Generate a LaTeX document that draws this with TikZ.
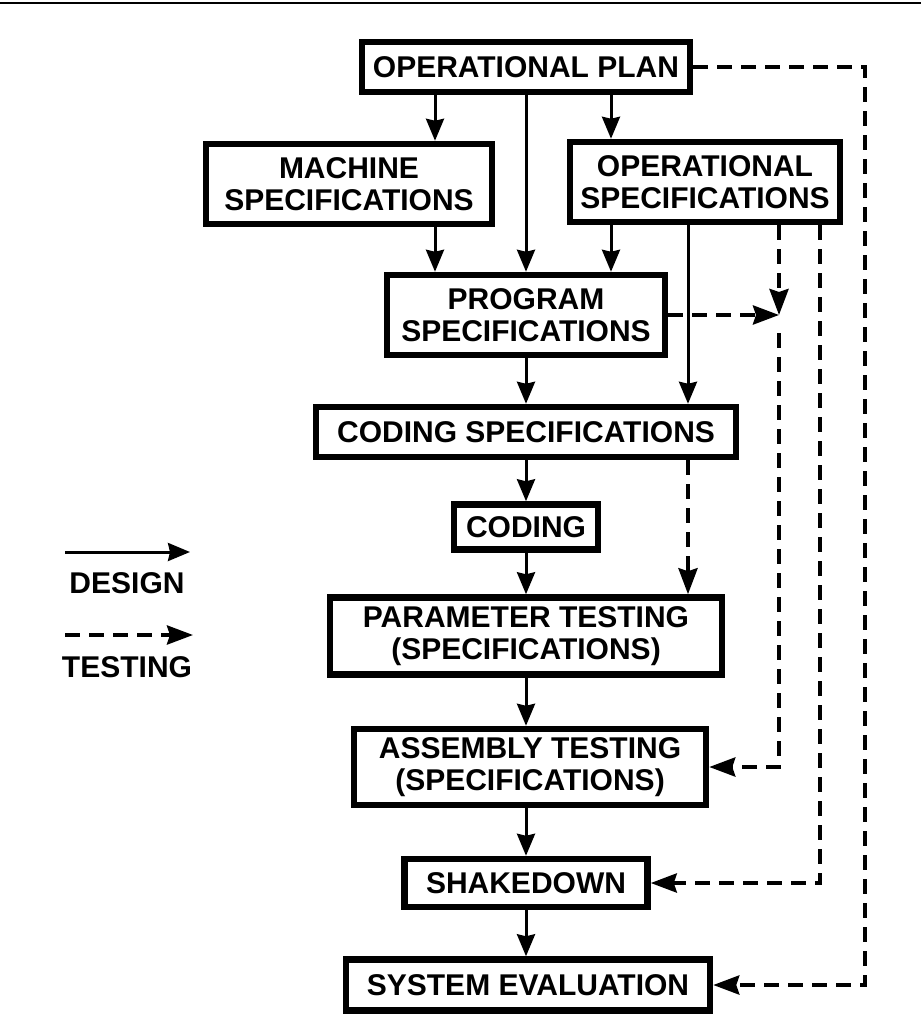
\documentclass[tikz,border=0pt]{standalone}
\usepackage{fontspec}
\setmainfont{Liberation Sans}
\usetikzlibrary{arrows.meta}

\begin{document}
\begin{tikzpicture}[x=1pt,y=-1pt,
  box/.style={draw,line width=6.5pt,inner sep=0pt,align=center,
    font=\fontsize{30}{32}\selectfont\bfseries},
  design/.style={line width=3pt,-{Stealth[length=22pt,width=18pt,inset=2pt]}},
  testing/.style={line width=4pt,dash pattern=on 15pt off 9pt,
    -{Stealth[length=26pt,width=19pt,inset=3pt]}},
  legend/.style={font=\fontsize{30}{32}\selectfont\bfseries}]

\useasboundingbox (0,0) rectangle (921,1017);
\draw[line width=2pt] (0,3) -- (921,3);

% boxes
\node[box,minimum width=328pt,minimum height=50pt] (op) at (526,67) {OPERATIONAL PLAN};
\node[box,minimum width=286pt,minimum height=80pt] (mach) at (349,184) {MACHINE\\SPECIFICATIONS};
\node[box,minimum width=270pt,minimum height=80pt] (opspec) at (705,182) {OPERATIONAL\\SPECIFICATIONS};
\node[box,minimum width=278pt,minimum height=80pt] (prog) at (526,315) {PROGRAM\\SPECIFICATIONS};
\node[box,minimum width=420pt,minimum height=50pt] (codspec) at (526,432) {CODING SPECIFICATIONS};
\node[box,minimum width=144pt,minimum height=45pt] (coding) at (526,527) {CODING};
\node[box,minimum width=392pt,minimum height=77pt] (param) at (526,636) {PARAMETER TESTING\\(SPECIFICATIONS)};
\node[box,minimum width=352pt,minimum height=76pt] (asm) at (530,767) {ASSEMBLY TESTING\\(SPECIFICATIONS)};
\node[box,minimum width=243pt,minimum height=48pt] (shake) at (526,883) {SHAKEDOWN};
\node[box,minimum width=364pt,minimum height=51pt] (syseval) at (528,985) {SYSTEM EVALUATION};

% design
\draw[design] (op.south -| 435,0) -- (mach.north -| 435,0);
\draw[design] (op.south) -- (prog.north);
\draw[design] (op.south -| 611,0) -- (opspec.north -| 611,0);
\draw[design] (mach.south -| 435,0) -- (prog.north -| 435,0);
\draw[design] (opspec.south -| 611,0) -- (prog.north -| 611,0);
\draw[design] (opspec.south -| 688,0) -- (codspec.north -| 688,0);
\draw[design] (prog.south) -- (codspec.north);
\draw[design] (codspec.south) -- (coding.north);
\draw[design] (coding.south) -- (param.north);
\draw[design] (param.south) -- (asm.north -| param.south);
\draw[design] (asm.south -| shake.north) -- (shake.north);
\draw[design] (shake.south) -- (syseval.north -| shake.south);

% testing
\coordinate (merge) at (779,315);
\draw[testing] (opspec.south -| merge) -- (merge);
\draw[testing] (prog.east) -- (merge);
\draw[testing] ([yshift=-18pt]merge) |- (asm.east);
\draw[testing] (codspec.south -| 688,0) -- (param.north -| 688,0);
\draw[testing] (opspec.south -| 820,0) |- (shake.east);
\draw[testing] (op.east) -- (op.east -| 865,0) |- (syseval.east);

% legend
\coordinate (dstart) at (65,552);
\coordinate (dend) at (190,552);
\draw[design] (dstart) -- (dend);
\node[legend] (dlabel) at (127,583) {DESIGN};
\coordinate (tstart) at (65,635);
\coordinate (tend) at (193,635);
\draw[testing] (tstart) -- (tend);
\node[legend] (tlabel) at (127,667) {TESTING};
\end{tikzpicture}
\end{document}
